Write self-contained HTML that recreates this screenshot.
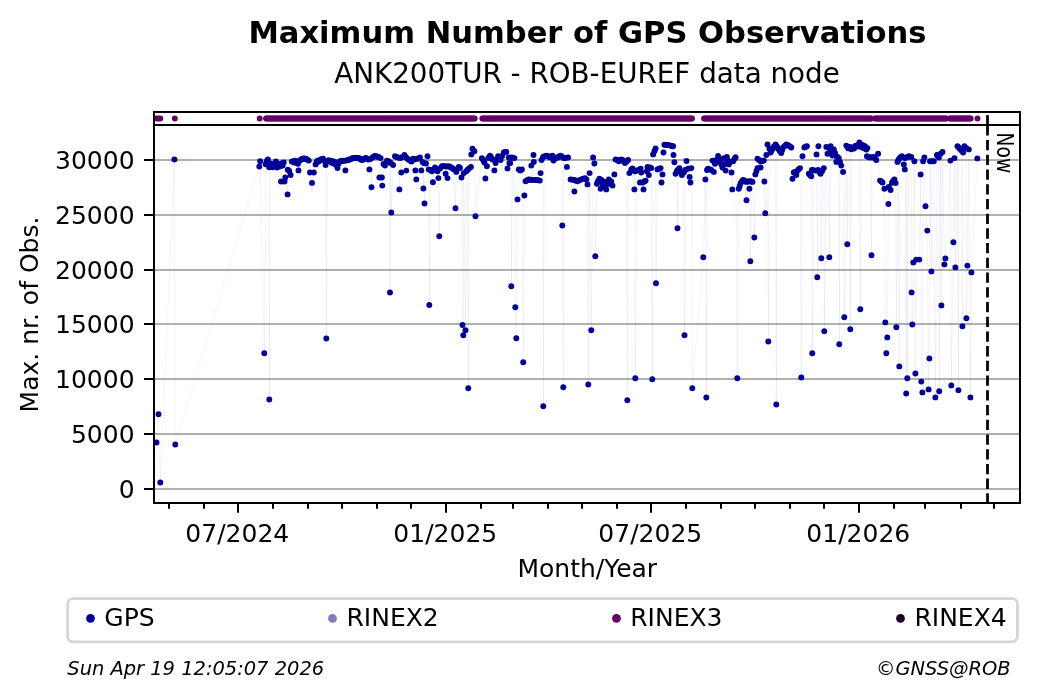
<!DOCTYPE html><html><head><meta charset="utf-8"><title>Maximum Number of GPS Observations</title>
<style>html,body{margin:0;padding:0;background:#fff;}body{width:1040px;height:699px;overflow:hidden;font-family:"DejaVu Sans","Liberation Sans",sans-serif;}svg{display:block;}text{font-family:"DejaVu Sans","Liberation Sans",sans-serif;fill:#000;}</style></head><body>
<svg width="1040" height="699" viewBox="0 0 1040 699">
<rect x="0" y="0" width="1040" height="699" fill="#ffffff"/>
<g stroke="#b0b0b0" stroke-width="2">
<line x1="154.0" x2="1020.0" y1="489.00" y2="489.00"/>
<line x1="154.0" x2="1020.0" y1="434.00" y2="434.00"/>
<line x1="154.0" x2="1020.0" y1="379.00" y2="379.00"/>
<line x1="154.0" x2="1020.0" y1="324.00" y2="324.00"/>
<line x1="154.0" x2="1020.0" y1="270.00" y2="270.00"/>
<line x1="154.0" x2="1020.0" y1="215.00" y2="215.00"/>
<line x1="154.0" x2="1020.0" y1="160.00" y2="160.00"/>
</g>
<clipPath id="cm"><rect x="154" y="125" width="866" height="378"/></clipPath>
<clipPath id="ct"><rect x="154" y="112" width="866" height="13"/></clipPath>
<polyline clip-path="url(#cm)" fill="none" stroke="#00009a" stroke-opacity="0.06" stroke-width="0.9" stroke-linejoin="round" points="156.5,442.5 158.5,414.3 160.3,482.5 174.4,159.4 175.3,444.5 259.3,166.5 260.2,161.2 264.3,353.3 265.7,164.3 266.8,161.0 267.9,159.4 269.1,167.3 269.3,399.5 270.2,163.5 271.3,166.8 272.5,167.2 273.6,164.0 274.7,166.0 275.8,161.4 277.0,167.5 278.1,164.0 279.2,166.5 280.4,166.1 281.0,181.5 281.5,163.5 282.6,165.5 283.7,162.5 284.5,181.5 285.3,177.5 287.6,194.4 287.8,169.7 289.2,171.0 290.6,175.0 291.8,161.6 293.0,161.3 294.2,162.5 295.4,160.6 296.6,163.0 298.0,163.8 298.5,170.4 299.9,160.5 301.2,159.5 302.5,158.8 303.6,158.5 304.8,158.8 306.0,158.8 307.3,159.8 308.8,160.6 310.0,172.5 312.0,182.9 313.8,172.5 315.6,164.4 316.6,162.0 317.5,160.6 318.8,161.5 320.0,160.0 321.3,159.2 323.0,158.8 324.2,160.5 325.6,165.0 326.3,338.5 327.2,161.0 328.6,160.2 330.0,160.6 331.2,162.5 332.4,161.0 333.6,163.5 335.0,162.0 336.2,165.0 337.5,168.0 338.6,163.5 339.8,161.5 341.0,161.0 342.5,160.6 343.6,161.0 345.4,170.4 346.5,160.5 347.7,160.0 348.8,159.8 350.0,159.4 351.2,158.8 352.4,158.2 353.8,158.0 355.0,158.0 356.2,157.8 357.5,158.0 358.8,158.0 360.0,159.0 361.2,159.8 362.5,160.0 363.6,159.0 365.6,158.0 366.8,158.5 368.0,159.5 369.4,169.4 370.4,159.0 371.5,187.3 372.6,157.5 373.8,156.5 375.0,156.0 376.2,156.3 377.4,156.8 378.6,157.0 379.4,177.5 380.6,158.1 381.9,177.5 382.3,185.6 383.6,164.0 385.0,165.6 386.9,160.6 388.1,161.0 389.4,161.9 390.0,292.5 390.6,163.0 391.3,212.5 393.1,165.0 395.0,156.3 396.5,157.0 398.1,157.5 399.4,189.4 400.3,158.0 401.3,172.5 402.4,157.0 404.4,155.0 405.6,157.0 406.3,170.6 406.9,158.1 408.4,159.5 410.0,160.6 411.5,161.5 413.1,158.8 414.3,159.5 415.4,170.4 416.3,179.4 416.9,158.8 418.4,158.5 420.0,157.5 421.3,170.4 422.6,162.0 423.4,188.5 423.8,163.1 424.5,203.5 426.0,163.5 427.5,156.3 428.8,169.4 429.3,305.0 430.3,170.0 431.9,171.3 432.9,182.3 433.6,169.5 435.0,167.5 436.2,169.5 437.5,171.3 438.4,178.1 439.3,236.3 440.0,168.5 441.9,166.3 443.4,166.3 445.0,166.3 445.6,173.8 446.6,166.5 447.5,178.1 448.8,166.3 450.0,167.0 451.2,167.5 452.5,168.1 453.8,169.5 455.5,208.3 456.3,171.9 457.5,169.0 458.8,166.9 460.0,168.0 461.5,177.5 462.5,325.0 463.3,335.3 463.8,173.1 465.5,330.3 466.3,171.3 467.5,170.0 468.3,388.3 468.8,168.8 470.9,166.9 471.3,154.4 472.5,148.8 474.4,151.3 475.5,216.3 481.9,158.1 483.1,160.0 484.4,162.5 485.4,178.5 486.9,166.3 488.4,158.0 490.0,155.6 491.2,157.5 492.5,159.4 494.4,170.4 495.6,163.1 496.8,159.5 498.1,156.3 499.4,158.5 500.6,160.0 502.2,156.0 503.8,152.5 505.0,152.0 506.3,151.9 507.5,168.5 508.8,157.5 509.4,163.1 510.2,163.1 511.3,157.5 511.3,286.3 512.8,157.8 514.4,158.1 515.3,307.3 516.3,338.3 517.5,199.4 518.8,169.4 520.3,170.5 521.9,169.4 523.2,362.3 524.4,195.5 525.6,181.3 527.2,180.2 528.8,179.4 530.2,179.8 531.3,165.6 531.9,180.0 533.5,155.0 533.8,161.9 535.0,180.0 536.3,180.0 538.0,180.3 539.8,180.6 540.6,173.1 541.5,160.0 543.1,156.9 543.3,406.3 544.4,156.5 545.6,156.0 546.9,155.6 548.4,156.5 550.0,157.5 551.2,156.5 552.5,155.6 553.5,160.6 555.0,158.5 556.2,158.0 557.5,157.5 559.0,156.5 560.6,155.6 562.2,157.0 562.3,225.5 563.3,387.3 563.8,158.1 565.3,158.0 566.9,166.9 568.1,157.5 570.6,179.4 572.5,179.8 574.4,180.0 574.4,191.5 576.0,180.8 577.5,181.3 579.4,180.3 581.3,179.4 583.1,178.8 585.0,178.1 586.3,179.5 587.5,184.4 588.3,384.5 589.6,173.1 591.3,330.3 593.1,157.5 594.4,163.5 595.3,256.3 596.9,183.8 598.1,181.0 599.4,178.8 600.6,188.8 601.6,180.0 602.5,183.8 603.8,186.5 605.0,182.0 606.3,189.4 607.5,184.0 608.8,179.4 610.0,183.8 611.2,181.5 612.5,185.6 614.4,174.4 615.6,159.4 617.2,160.0 618.8,161.3 620.0,160.0 621.3,159.4 622.5,160.0 623.8,161.5 625.0,163.1 626.5,161.5 627.3,400.3 628.1,160.0 629.4,173.1 631.3,169.4 632.5,168.5 633.8,170.5 634.4,189.4 635.0,171.3 635.3,378.3 636.9,170.5 638.8,170.0 640.0,182.5 640.6,168.8 641.3,172.5 642.5,182.5 643.5,189.4 644.5,181.5 645.6,180.6 646.9,171.3 647.5,166.9 648.8,175.0 650.0,167.5 651.3,168.1 652.3,379.3 653.1,154.4 654.4,151.3 655.6,148.5 656.0,283.3 657.5,169.4 659.0,168.8 660.6,168.1 661.5,182.5 662.5,174.4 663.5,152.5 664.4,144.8 666.0,144.9 667.5,145.0 669.0,145.3 670.6,145.6 671.9,146.0 673.1,146.3 673.5,155.0 674.4,162.3 675.6,173.8 677.0,171.0 677.5,228.3 678.3,169.5 679.4,168.1 680.6,172.0 681.9,175.0 683.8,172.5 684.5,335.3 685.2,170.0 686.5,161.0 688.1,168.8 689.6,176.9 690.4,182.5 691.3,168.1 692.3,388.3 703.3,257.3 705.4,179.4 706.3,397.5 707.0,170.0 708.1,168.8 709.7,169.4 711.3,170.0 712.5,160.6 713.8,171.9 715.0,163.8 716.5,160.0 718.1,156.0 719.0,159.0 720.0,161.9 721.3,164.5 722.5,167.5 723.8,158.1 724.7,164.0 725.6,170.6 726.9,156.9 727.8,160.5 728.8,164.4 730.2,162.0 731.5,172.5 732.3,189.4 733.1,161.3 734.4,159.0 735.6,157.3 737.3,378.3 738.8,188.8 739.7,186.0 740.6,183.1 741.9,181.5 743.1,180.0 744.4,180.5 746.3,181.9 746.5,200.3 747.8,181.5 749.4,188.8 750.0,181.3 750.3,261.3 751.3,181.5 752.5,181.9 754.3,237.5 755.4,174.4 756.5,171.0 757.5,168.1 757.5,158.8 759.0,160.0 760.6,161.3 760.6,167.5 762.2,161.0 763.8,160.6 764.4,181.5 765.3,213.3 766.3,155.0 767.5,144.4 768.3,341.5 769.4,148.8 770.6,152.5 771.6,150.5 772.5,148.8 774.0,146.5 775.6,144.4 776.3,404.5 776.9,146.5 778.1,148.8 779.7,151.0 781.3,153.1 782.2,150.0 783.1,147.5 784.7,146.0 786.3,144.4 787.5,145.0 788.8,145.6 790.0,146.5 791.3,147.5 792.5,178.8 793.8,172.5 795.0,172.0 796.3,175.0 796.9,171.3 798.5,169.5 800.0,168.1 801.3,377.5 802.5,156.3 804.4,147.5 805.6,146.8 806.9,146.3 808.8,173.8 810.0,175.0 811.3,176.3 811.9,170.0 812.3,353.2 813.5,170.3 815.0,170.6 816.5,154.4 817.3,277.3 818.1,170.0 818.4,146.3 819.4,172.0 820.6,173.8 821.3,258.3 822.2,171.0 823.8,168.1 824.3,331.3 826.3,146.9 827.5,153.8 829.0,148.0 829.3,257.3 830.6,146.3 831.6,151.0 832.5,155.6 833.8,149.4 835.0,153.0 836.3,156.3 836.3,161.9 837.5,157.0 838.8,158.1 839.3,344.3 840.0,162.0 841.3,165.6 843.1,171.9 844.3,317.3 846.3,145.6 847.3,244.3 848.1,148.2 850.0,146.9 850.3,329.3 851.3,149.2 852.5,147.5 854.0,148.6 855.6,145.6 857.5,146.6 859.4,142.5 860.3,309.3 861.0,146.9 862.5,145.0 863.8,148.2 865.0,146.3 866.3,149.6 866.9,156.3 867.5,148.1 868.5,157.0 870.0,157.5 871.5,255.3 872.0,157.2 873.8,156.9 875.0,158.5 876.3,160.0 878.1,153.8 880.0,180.6 881.3,181.5 882.5,182.5 884.4,188.8 885.3,322.4 886.3,353.3 887.3,337.4 888.4,204.0 888.8,186.9 890.6,190.0 891.9,182.7 893.1,181.0 894.4,179.4 895.6,183.1 896.3,327.3 897.5,161.9 898.4,160.0 899.3,366.4 899.4,158.5 900.6,157.3 901.9,156.3 903.8,164.4 904.8,169.4 905.0,158.1 906.2,393.5 906.9,157.2 907.3,378.3 908.8,156.3 910.0,156.6 911.3,156.9 911.6,292.4 912.3,324.5 913.3,262.4 914.4,161.3 915.4,373.5 916.3,259.6 919.3,259.6 920.6,174.4 921.3,381.6 922.4,392.4 923.1,161.3 924.4,157.5 925.5,206.3 927.3,230.6 928.6,389.4 929.4,358.4 930.0,161.3 931.4,271.4 931.9,161.3 933.8,161.3 935.4,397.4 936.9,155.0 937.8,156.3 938.8,157.5 939.2,391.3 940.6,153.8 941.4,305.4 942.5,151.9 944.4,264.4 945.4,258.4 950.4,160.6 951.3,385.4 953.4,242.3 954.4,158.1 955.4,267.4 957.5,146.3 958.4,390.3 958.8,147.5 960.0,148.8 961.5,150.6 962.4,326.2 963.1,152.5 964.4,146.3 966.3,148.1 966.4,318.2 967.4,265.6 968.8,149.4 970.4,397.4 971.4,272.4 977.3,158.4"/>
<g clip-path="url(#cm)" fill="#000096">
<circle cx="156.5" cy="442.5" r="2.95"/>
<circle cx="158.5" cy="414.3" r="2.95"/>
<circle cx="160.3" cy="482.5" r="2.95"/>
<circle cx="174.4" cy="159.4" r="2.95"/>
<circle cx="175.3" cy="444.5" r="2.95"/>
<circle cx="259.3" cy="166.5" r="2.95"/>
<circle cx="260.2" cy="161.2" r="2.95"/>
<circle cx="264.3" cy="353.3" r="2.95"/>
<circle cx="265.7" cy="164.3" r="2.95"/>
<circle cx="266.8" cy="161.0" r="2.95"/>
<circle cx="267.9" cy="159.4" r="2.95"/>
<circle cx="269.1" cy="167.3" r="2.95"/>
<circle cx="269.3" cy="399.5" r="2.95"/>
<circle cx="270.2" cy="163.5" r="2.95"/>
<circle cx="271.3" cy="166.8" r="2.95"/>
<circle cx="272.5" cy="167.2" r="2.95"/>
<circle cx="273.6" cy="164.0" r="2.95"/>
<circle cx="274.7" cy="166.0" r="2.95"/>
<circle cx="275.8" cy="161.4" r="2.95"/>
<circle cx="277.0" cy="167.5" r="2.95"/>
<circle cx="278.1" cy="164.0" r="2.95"/>
<circle cx="279.2" cy="166.5" r="2.95"/>
<circle cx="280.4" cy="166.1" r="2.95"/>
<circle cx="281.0" cy="181.5" r="2.95"/>
<circle cx="281.5" cy="163.5" r="2.95"/>
<circle cx="282.6" cy="165.5" r="2.95"/>
<circle cx="283.7" cy="162.5" r="2.95"/>
<circle cx="284.5" cy="181.5" r="2.95"/>
<circle cx="285.3" cy="177.5" r="2.95"/>
<circle cx="287.6" cy="194.4" r="2.95"/>
<circle cx="287.8" cy="169.7" r="2.95"/>
<circle cx="289.2" cy="171.0" r="2.95"/>
<circle cx="290.6" cy="175.0" r="2.95"/>
<circle cx="291.8" cy="161.6" r="2.95"/>
<circle cx="293.0" cy="161.3" r="2.95"/>
<circle cx="294.2" cy="162.5" r="2.95"/>
<circle cx="295.4" cy="160.6" r="2.95"/>
<circle cx="296.6" cy="163.0" r="2.95"/>
<circle cx="298.0" cy="163.8" r="2.95"/>
<circle cx="298.5" cy="170.4" r="2.95"/>
<circle cx="299.9" cy="160.5" r="2.95"/>
<circle cx="301.2" cy="159.5" r="2.95"/>
<circle cx="302.5" cy="158.8" r="2.95"/>
<circle cx="303.6" cy="158.5" r="2.95"/>
<circle cx="304.8" cy="158.8" r="2.95"/>
<circle cx="306.0" cy="158.8" r="2.95"/>
<circle cx="307.3" cy="159.8" r="2.95"/>
<circle cx="308.8" cy="160.6" r="2.95"/>
<circle cx="310.0" cy="172.5" r="2.95"/>
<circle cx="312.0" cy="182.9" r="2.95"/>
<circle cx="313.8" cy="172.5" r="2.95"/>
<circle cx="315.6" cy="164.4" r="2.95"/>
<circle cx="316.6" cy="162.0" r="2.95"/>
<circle cx="317.5" cy="160.6" r="2.95"/>
<circle cx="318.8" cy="161.5" r="2.95"/>
<circle cx="320.0" cy="160.0" r="2.95"/>
<circle cx="321.3" cy="159.2" r="2.95"/>
<circle cx="323.0" cy="158.8" r="2.95"/>
<circle cx="324.2" cy="160.5" r="2.95"/>
<circle cx="325.6" cy="165.0" r="2.95"/>
<circle cx="326.3" cy="338.5" r="2.95"/>
<circle cx="327.2" cy="161.0" r="2.95"/>
<circle cx="328.6" cy="160.2" r="2.95"/>
<circle cx="330.0" cy="160.6" r="2.95"/>
<circle cx="331.2" cy="162.5" r="2.95"/>
<circle cx="332.4" cy="161.0" r="2.95"/>
<circle cx="333.6" cy="163.5" r="2.95"/>
<circle cx="335.0" cy="162.0" r="2.95"/>
<circle cx="336.2" cy="165.0" r="2.95"/>
<circle cx="337.5" cy="168.0" r="2.95"/>
<circle cx="338.6" cy="163.5" r="2.95"/>
<circle cx="339.8" cy="161.5" r="2.95"/>
<circle cx="341.0" cy="161.0" r="2.95"/>
<circle cx="342.5" cy="160.6" r="2.95"/>
<circle cx="343.6" cy="161.0" r="2.95"/>
<circle cx="345.4" cy="170.4" r="2.95"/>
<circle cx="346.5" cy="160.5" r="2.95"/>
<circle cx="347.7" cy="160.0" r="2.95"/>
<circle cx="348.8" cy="159.8" r="2.95"/>
<circle cx="350.0" cy="159.4" r="2.95"/>
<circle cx="351.2" cy="158.8" r="2.95"/>
<circle cx="352.4" cy="158.2" r="2.95"/>
<circle cx="353.8" cy="158.0" r="2.95"/>
<circle cx="355.0" cy="158.0" r="2.95"/>
<circle cx="356.2" cy="157.8" r="2.95"/>
<circle cx="357.5" cy="158.0" r="2.95"/>
<circle cx="358.8" cy="158.0" r="2.95"/>
<circle cx="360.0" cy="159.0" r="2.95"/>
<circle cx="361.2" cy="159.8" r="2.95"/>
<circle cx="362.5" cy="160.0" r="2.95"/>
<circle cx="363.6" cy="159.0" r="2.95"/>
<circle cx="365.6" cy="158.0" r="2.95"/>
<circle cx="366.8" cy="158.5" r="2.95"/>
<circle cx="368.0" cy="159.5" r="2.95"/>
<circle cx="369.4" cy="169.4" r="2.95"/>
<circle cx="370.4" cy="159.0" r="2.95"/>
<circle cx="371.5" cy="187.3" r="2.95"/>
<circle cx="372.6" cy="157.5" r="2.95"/>
<circle cx="373.8" cy="156.5" r="2.95"/>
<circle cx="375.0" cy="156.0" r="2.95"/>
<circle cx="376.2" cy="156.3" r="2.95"/>
<circle cx="377.4" cy="156.8" r="2.95"/>
<circle cx="378.6" cy="157.0" r="2.95"/>
<circle cx="379.4" cy="177.5" r="2.95"/>
<circle cx="380.6" cy="158.1" r="2.95"/>
<circle cx="381.9" cy="177.5" r="2.95"/>
<circle cx="382.3" cy="185.6" r="2.95"/>
<circle cx="383.6" cy="164.0" r="2.95"/>
<circle cx="385.0" cy="165.6" r="2.95"/>
<circle cx="386.9" cy="160.6" r="2.95"/>
<circle cx="388.1" cy="161.0" r="2.95"/>
<circle cx="389.4" cy="161.9" r="2.95"/>
<circle cx="390.0" cy="292.5" r="2.95"/>
<circle cx="390.6" cy="163.0" r="2.95"/>
<circle cx="391.3" cy="212.5" r="2.95"/>
<circle cx="393.1" cy="165.0" r="2.95"/>
<circle cx="395.0" cy="156.3" r="2.95"/>
<circle cx="396.5" cy="157.0" r="2.95"/>
<circle cx="398.1" cy="157.5" r="2.95"/>
<circle cx="399.4" cy="189.4" r="2.95"/>
<circle cx="400.3" cy="158.0" r="2.95"/>
<circle cx="401.3" cy="172.5" r="2.95"/>
<circle cx="402.4" cy="157.0" r="2.95"/>
<circle cx="404.4" cy="155.0" r="2.95"/>
<circle cx="405.6" cy="157.0" r="2.95"/>
<circle cx="406.3" cy="170.6" r="2.95"/>
<circle cx="406.9" cy="158.1" r="2.95"/>
<circle cx="408.4" cy="159.5" r="2.95"/>
<circle cx="410.0" cy="160.6" r="2.95"/>
<circle cx="411.5" cy="161.5" r="2.95"/>
<circle cx="413.1" cy="158.8" r="2.95"/>
<circle cx="414.3" cy="159.5" r="2.95"/>
<circle cx="415.4" cy="170.4" r="2.95"/>
<circle cx="416.3" cy="179.4" r="2.95"/>
<circle cx="416.9" cy="158.8" r="2.95"/>
<circle cx="418.4" cy="158.5" r="2.95"/>
<circle cx="420.0" cy="157.5" r="2.95"/>
<circle cx="421.3" cy="170.4" r="2.95"/>
<circle cx="422.6" cy="162.0" r="2.95"/>
<circle cx="423.4" cy="188.5" r="2.95"/>
<circle cx="423.8" cy="163.1" r="2.95"/>
<circle cx="424.5" cy="203.5" r="2.95"/>
<circle cx="426.0" cy="163.5" r="2.95"/>
<circle cx="427.5" cy="156.3" r="2.95"/>
<circle cx="428.8" cy="169.4" r="2.95"/>
<circle cx="429.3" cy="305.0" r="2.95"/>
<circle cx="430.3" cy="170.0" r="2.95"/>
<circle cx="431.9" cy="171.3" r="2.95"/>
<circle cx="432.9" cy="182.3" r="2.95"/>
<circle cx="433.6" cy="169.5" r="2.95"/>
<circle cx="435.0" cy="167.5" r="2.95"/>
<circle cx="436.2" cy="169.5" r="2.95"/>
<circle cx="437.5" cy="171.3" r="2.95"/>
<circle cx="438.4" cy="178.1" r="2.95"/>
<circle cx="439.3" cy="236.3" r="2.95"/>
<circle cx="440.0" cy="168.5" r="2.95"/>
<circle cx="441.9" cy="166.3" r="2.95"/>
<circle cx="443.4" cy="166.3" r="2.95"/>
<circle cx="445.0" cy="166.3" r="2.95"/>
<circle cx="445.6" cy="173.8" r="2.95"/>
<circle cx="446.6" cy="166.5" r="2.95"/>
<circle cx="447.5" cy="178.1" r="2.95"/>
<circle cx="448.8" cy="166.3" r="2.95"/>
<circle cx="450.0" cy="167.0" r="2.95"/>
<circle cx="451.2" cy="167.5" r="2.95"/>
<circle cx="452.5" cy="168.1" r="2.95"/>
<circle cx="453.8" cy="169.5" r="2.95"/>
<circle cx="455.5" cy="208.3" r="2.95"/>
<circle cx="456.3" cy="171.9" r="2.95"/>
<circle cx="457.5" cy="169.0" r="2.95"/>
<circle cx="458.8" cy="166.9" r="2.95"/>
<circle cx="460.0" cy="168.0" r="2.95"/>
<circle cx="461.5" cy="177.5" r="2.95"/>
<circle cx="462.5" cy="325.0" r="2.95"/>
<circle cx="463.3" cy="335.3" r="2.95"/>
<circle cx="463.8" cy="173.1" r="2.95"/>
<circle cx="465.5" cy="330.3" r="2.95"/>
<circle cx="466.3" cy="171.3" r="2.95"/>
<circle cx="467.5" cy="170.0" r="2.95"/>
<circle cx="468.3" cy="388.3" r="2.95"/>
<circle cx="468.8" cy="168.8" r="2.95"/>
<circle cx="470.9" cy="166.9" r="2.95"/>
<circle cx="471.3" cy="154.4" r="2.95"/>
<circle cx="472.5" cy="148.8" r="2.95"/>
<circle cx="474.4" cy="151.3" r="2.95"/>
<circle cx="475.5" cy="216.3" r="2.95"/>
<circle cx="481.9" cy="158.1" r="2.95"/>
<circle cx="483.1" cy="160.0" r="2.95"/>
<circle cx="484.4" cy="162.5" r="2.95"/>
<circle cx="485.4" cy="178.5" r="2.95"/>
<circle cx="486.9" cy="166.3" r="2.95"/>
<circle cx="488.4" cy="158.0" r="2.95"/>
<circle cx="490.0" cy="155.6" r="2.95"/>
<circle cx="491.2" cy="157.5" r="2.95"/>
<circle cx="492.5" cy="159.4" r="2.95"/>
<circle cx="494.4" cy="170.4" r="2.95"/>
<circle cx="495.6" cy="163.1" r="2.95"/>
<circle cx="496.8" cy="159.5" r="2.95"/>
<circle cx="498.1" cy="156.3" r="2.95"/>
<circle cx="499.4" cy="158.5" r="2.95"/>
<circle cx="500.6" cy="160.0" r="2.95"/>
<circle cx="502.2" cy="156.0" r="2.95"/>
<circle cx="503.8" cy="152.5" r="2.95"/>
<circle cx="505.0" cy="152.0" r="2.95"/>
<circle cx="506.3" cy="151.9" r="2.95"/>
<circle cx="507.5" cy="168.5" r="2.95"/>
<circle cx="508.8" cy="157.5" r="2.95"/>
<circle cx="509.4" cy="163.1" r="2.95"/>
<circle cx="510.2" cy="163.1" r="2.95"/>
<circle cx="511.3" cy="157.5" r="2.95"/>
<circle cx="511.3" cy="286.3" r="2.95"/>
<circle cx="512.8" cy="157.8" r="2.95"/>
<circle cx="514.4" cy="158.1" r="2.95"/>
<circle cx="515.3" cy="307.3" r="2.95"/>
<circle cx="516.3" cy="338.3" r="2.95"/>
<circle cx="517.5" cy="199.4" r="2.95"/>
<circle cx="518.8" cy="169.4" r="2.95"/>
<circle cx="520.3" cy="170.5" r="2.95"/>
<circle cx="521.9" cy="169.4" r="2.95"/>
<circle cx="523.2" cy="362.3" r="2.95"/>
<circle cx="524.4" cy="195.5" r="2.95"/>
<circle cx="525.6" cy="181.3" r="2.95"/>
<circle cx="527.2" cy="180.2" r="2.95"/>
<circle cx="528.8" cy="179.4" r="2.95"/>
<circle cx="530.2" cy="179.8" r="2.95"/>
<circle cx="531.3" cy="165.6" r="2.95"/>
<circle cx="531.9" cy="180.0" r="2.95"/>
<circle cx="533.5" cy="155.0" r="2.95"/>
<circle cx="533.8" cy="161.9" r="2.95"/>
<circle cx="535.0" cy="180.0" r="2.95"/>
<circle cx="536.3" cy="180.0" r="2.95"/>
<circle cx="538.0" cy="180.3" r="2.95"/>
<circle cx="539.8" cy="180.6" r="2.95"/>
<circle cx="540.6" cy="173.1" r="2.95"/>
<circle cx="541.5" cy="160.0" r="2.95"/>
<circle cx="543.1" cy="156.9" r="2.95"/>
<circle cx="543.3" cy="406.3" r="2.95"/>
<circle cx="544.4" cy="156.5" r="2.95"/>
<circle cx="545.6" cy="156.0" r="2.95"/>
<circle cx="546.9" cy="155.6" r="2.95"/>
<circle cx="548.4" cy="156.5" r="2.95"/>
<circle cx="550.0" cy="157.5" r="2.95"/>
<circle cx="551.2" cy="156.5" r="2.95"/>
<circle cx="552.5" cy="155.6" r="2.95"/>
<circle cx="553.5" cy="160.6" r="2.95"/>
<circle cx="555.0" cy="158.5" r="2.95"/>
<circle cx="556.2" cy="158.0" r="2.95"/>
<circle cx="557.5" cy="157.5" r="2.95"/>
<circle cx="559.0" cy="156.5" r="2.95"/>
<circle cx="560.6" cy="155.6" r="2.95"/>
<circle cx="562.2" cy="157.0" r="2.95"/>
<circle cx="562.3" cy="225.5" r="2.95"/>
<circle cx="563.3" cy="387.3" r="2.95"/>
<circle cx="563.8" cy="158.1" r="2.95"/>
<circle cx="565.3" cy="158.0" r="2.95"/>
<circle cx="566.9" cy="166.9" r="2.95"/>
<circle cx="568.1" cy="157.5" r="2.95"/>
<circle cx="570.6" cy="179.4" r="2.95"/>
<circle cx="572.5" cy="179.8" r="2.95"/>
<circle cx="574.4" cy="180.0" r="2.95"/>
<circle cx="574.4" cy="191.5" r="2.95"/>
<circle cx="576.0" cy="180.8" r="2.95"/>
<circle cx="577.5" cy="181.3" r="2.95"/>
<circle cx="579.4" cy="180.3" r="2.95"/>
<circle cx="581.3" cy="179.4" r="2.95"/>
<circle cx="583.1" cy="178.8" r="2.95"/>
<circle cx="585.0" cy="178.1" r="2.95"/>
<circle cx="586.3" cy="179.5" r="2.95"/>
<circle cx="587.5" cy="184.4" r="2.95"/>
<circle cx="588.3" cy="384.5" r="2.95"/>
<circle cx="589.6" cy="173.1" r="2.95"/>
<circle cx="591.3" cy="330.3" r="2.95"/>
<circle cx="593.1" cy="157.5" r="2.95"/>
<circle cx="594.4" cy="163.5" r="2.95"/>
<circle cx="595.3" cy="256.3" r="2.95"/>
<circle cx="596.9" cy="183.8" r="2.95"/>
<circle cx="598.1" cy="181.0" r="2.95"/>
<circle cx="599.4" cy="178.8" r="2.95"/>
<circle cx="600.6" cy="188.8" r="2.95"/>
<circle cx="601.6" cy="180.0" r="2.95"/>
<circle cx="602.5" cy="183.8" r="2.95"/>
<circle cx="603.8" cy="186.5" r="2.95"/>
<circle cx="605.0" cy="182.0" r="2.95"/>
<circle cx="606.3" cy="189.4" r="2.95"/>
<circle cx="607.5" cy="184.0" r="2.95"/>
<circle cx="608.8" cy="179.4" r="2.95"/>
<circle cx="610.0" cy="183.8" r="2.95"/>
<circle cx="611.2" cy="181.5" r="2.95"/>
<circle cx="612.5" cy="185.6" r="2.95"/>
<circle cx="614.4" cy="174.4" r="2.95"/>
<circle cx="615.6" cy="159.4" r="2.95"/>
<circle cx="617.2" cy="160.0" r="2.95"/>
<circle cx="618.8" cy="161.3" r="2.95"/>
<circle cx="620.0" cy="160.0" r="2.95"/>
<circle cx="621.3" cy="159.4" r="2.95"/>
<circle cx="622.5" cy="160.0" r="2.95"/>
<circle cx="623.8" cy="161.5" r="2.95"/>
<circle cx="625.0" cy="163.1" r="2.95"/>
<circle cx="626.5" cy="161.5" r="2.95"/>
<circle cx="627.3" cy="400.3" r="2.95"/>
<circle cx="628.1" cy="160.0" r="2.95"/>
<circle cx="629.4" cy="173.1" r="2.95"/>
<circle cx="631.3" cy="169.4" r="2.95"/>
<circle cx="632.5" cy="168.5" r="2.95"/>
<circle cx="633.8" cy="170.5" r="2.95"/>
<circle cx="634.4" cy="189.4" r="2.95"/>
<circle cx="635.0" cy="171.3" r="2.95"/>
<circle cx="635.3" cy="378.3" r="2.95"/>
<circle cx="636.9" cy="170.5" r="2.95"/>
<circle cx="638.8" cy="170.0" r="2.95"/>
<circle cx="640.0" cy="182.5" r="2.95"/>
<circle cx="640.6" cy="168.8" r="2.95"/>
<circle cx="641.3" cy="172.5" r="2.95"/>
<circle cx="642.5" cy="182.5" r="2.95"/>
<circle cx="643.5" cy="189.4" r="2.95"/>
<circle cx="644.5" cy="181.5" r="2.95"/>
<circle cx="645.6" cy="180.6" r="2.95"/>
<circle cx="646.9" cy="171.3" r="2.95"/>
<circle cx="647.5" cy="166.9" r="2.95"/>
<circle cx="648.8" cy="175.0" r="2.95"/>
<circle cx="650.0" cy="167.5" r="2.95"/>
<circle cx="651.3" cy="168.1" r="2.95"/>
<circle cx="652.3" cy="379.3" r="2.95"/>
<circle cx="653.1" cy="154.4" r="2.95"/>
<circle cx="654.4" cy="151.3" r="2.95"/>
<circle cx="655.6" cy="148.5" r="2.95"/>
<circle cx="656.0" cy="283.3" r="2.95"/>
<circle cx="657.5" cy="169.4" r="2.95"/>
<circle cx="659.0" cy="168.8" r="2.95"/>
<circle cx="660.6" cy="168.1" r="2.95"/>
<circle cx="661.5" cy="182.5" r="2.95"/>
<circle cx="662.5" cy="174.4" r="2.95"/>
<circle cx="663.5" cy="152.5" r="2.95"/>
<circle cx="664.4" cy="144.8" r="2.95"/>
<circle cx="666.0" cy="144.9" r="2.95"/>
<circle cx="667.5" cy="145.0" r="2.95"/>
<circle cx="669.0" cy="145.3" r="2.95"/>
<circle cx="670.6" cy="145.6" r="2.95"/>
<circle cx="671.9" cy="146.0" r="2.95"/>
<circle cx="673.1" cy="146.3" r="2.95"/>
<circle cx="673.5" cy="155.0" r="2.95"/>
<circle cx="674.4" cy="162.3" r="2.95"/>
<circle cx="675.6" cy="173.8" r="2.95"/>
<circle cx="677.0" cy="171.0" r="2.95"/>
<circle cx="677.5" cy="228.3" r="2.95"/>
<circle cx="678.3" cy="169.5" r="2.95"/>
<circle cx="679.4" cy="168.1" r="2.95"/>
<circle cx="680.6" cy="172.0" r="2.95"/>
<circle cx="681.9" cy="175.0" r="2.95"/>
<circle cx="683.8" cy="172.5" r="2.95"/>
<circle cx="684.5" cy="335.3" r="2.95"/>
<circle cx="685.2" cy="170.0" r="2.95"/>
<circle cx="686.5" cy="161.0" r="2.95"/>
<circle cx="688.1" cy="168.8" r="2.95"/>
<circle cx="689.6" cy="176.9" r="2.95"/>
<circle cx="690.4" cy="182.5" r="2.95"/>
<circle cx="691.3" cy="168.1" r="2.95"/>
<circle cx="692.3" cy="388.3" r="2.95"/>
<circle cx="703.3" cy="257.3" r="2.95"/>
<circle cx="705.4" cy="179.4" r="2.95"/>
<circle cx="706.3" cy="397.5" r="2.95"/>
<circle cx="707.0" cy="170.0" r="2.95"/>
<circle cx="708.1" cy="168.8" r="2.95"/>
<circle cx="709.7" cy="169.4" r="2.95"/>
<circle cx="711.3" cy="170.0" r="2.95"/>
<circle cx="712.5" cy="160.6" r="2.95"/>
<circle cx="713.8" cy="171.9" r="2.95"/>
<circle cx="715.0" cy="163.8" r="2.95"/>
<circle cx="716.5" cy="160.0" r="2.95"/>
<circle cx="718.1" cy="156.0" r="2.95"/>
<circle cx="719.0" cy="159.0" r="2.95"/>
<circle cx="720.0" cy="161.9" r="2.95"/>
<circle cx="721.3" cy="164.5" r="2.95"/>
<circle cx="722.5" cy="167.5" r="2.95"/>
<circle cx="723.8" cy="158.1" r="2.95"/>
<circle cx="724.7" cy="164.0" r="2.95"/>
<circle cx="725.6" cy="170.6" r="2.95"/>
<circle cx="726.9" cy="156.9" r="2.95"/>
<circle cx="727.8" cy="160.5" r="2.95"/>
<circle cx="728.8" cy="164.4" r="2.95"/>
<circle cx="730.2" cy="162.0" r="2.95"/>
<circle cx="731.5" cy="172.5" r="2.95"/>
<circle cx="732.3" cy="189.4" r="2.95"/>
<circle cx="733.1" cy="161.3" r="2.95"/>
<circle cx="734.4" cy="159.0" r="2.95"/>
<circle cx="735.6" cy="157.3" r="2.95"/>
<circle cx="737.3" cy="378.3" r="2.95"/>
<circle cx="738.8" cy="188.8" r="2.95"/>
<circle cx="739.7" cy="186.0" r="2.95"/>
<circle cx="740.6" cy="183.1" r="2.95"/>
<circle cx="741.9" cy="181.5" r="2.95"/>
<circle cx="743.1" cy="180.0" r="2.95"/>
<circle cx="744.4" cy="180.5" r="2.95"/>
<circle cx="746.3" cy="181.9" r="2.95"/>
<circle cx="746.5" cy="200.3" r="2.95"/>
<circle cx="747.8" cy="181.5" r="2.95"/>
<circle cx="749.4" cy="188.8" r="2.95"/>
<circle cx="750.0" cy="181.3" r="2.95"/>
<circle cx="750.3" cy="261.3" r="2.95"/>
<circle cx="751.3" cy="181.5" r="2.95"/>
<circle cx="752.5" cy="181.9" r="2.95"/>
<circle cx="754.3" cy="237.5" r="2.95"/>
<circle cx="755.4" cy="174.4" r="2.95"/>
<circle cx="756.5" cy="171.0" r="2.95"/>
<circle cx="757.5" cy="168.1" r="2.95"/>
<circle cx="757.5" cy="158.8" r="2.95"/>
<circle cx="759.0" cy="160.0" r="2.95"/>
<circle cx="760.6" cy="161.3" r="2.95"/>
<circle cx="760.6" cy="167.5" r="2.95"/>
<circle cx="762.2" cy="161.0" r="2.95"/>
<circle cx="763.8" cy="160.6" r="2.95"/>
<circle cx="764.4" cy="181.5" r="2.95"/>
<circle cx="765.3" cy="213.3" r="2.95"/>
<circle cx="766.3" cy="155.0" r="2.95"/>
<circle cx="767.5" cy="144.4" r="2.95"/>
<circle cx="768.3" cy="341.5" r="2.95"/>
<circle cx="769.4" cy="148.8" r="2.95"/>
<circle cx="770.6" cy="152.5" r="2.95"/>
<circle cx="771.6" cy="150.5" r="2.95"/>
<circle cx="772.5" cy="148.8" r="2.95"/>
<circle cx="774.0" cy="146.5" r="2.95"/>
<circle cx="775.6" cy="144.4" r="2.95"/>
<circle cx="776.3" cy="404.5" r="2.95"/>
<circle cx="776.9" cy="146.5" r="2.95"/>
<circle cx="778.1" cy="148.8" r="2.95"/>
<circle cx="779.7" cy="151.0" r="2.95"/>
<circle cx="781.3" cy="153.1" r="2.95"/>
<circle cx="782.2" cy="150.0" r="2.95"/>
<circle cx="783.1" cy="147.5" r="2.95"/>
<circle cx="784.7" cy="146.0" r="2.95"/>
<circle cx="786.3" cy="144.4" r="2.95"/>
<circle cx="787.5" cy="145.0" r="2.95"/>
<circle cx="788.8" cy="145.6" r="2.95"/>
<circle cx="790.0" cy="146.5" r="2.95"/>
<circle cx="791.3" cy="147.5" r="2.95"/>
<circle cx="792.5" cy="178.8" r="2.95"/>
<circle cx="793.8" cy="172.5" r="2.95"/>
<circle cx="795.0" cy="172.0" r="2.95"/>
<circle cx="796.3" cy="175.0" r="2.95"/>
<circle cx="796.9" cy="171.3" r="2.95"/>
<circle cx="798.5" cy="169.5" r="2.95"/>
<circle cx="800.0" cy="168.1" r="2.95"/>
<circle cx="801.3" cy="377.5" r="2.95"/>
<circle cx="802.5" cy="156.3" r="2.95"/>
<circle cx="804.4" cy="147.5" r="2.95"/>
<circle cx="805.6" cy="146.8" r="2.95"/>
<circle cx="806.9" cy="146.3" r="2.95"/>
<circle cx="808.8" cy="173.8" r="2.95"/>
<circle cx="810.0" cy="175.0" r="2.95"/>
<circle cx="811.3" cy="176.3" r="2.95"/>
<circle cx="811.9" cy="170.0" r="2.95"/>
<circle cx="812.3" cy="353.2" r="2.95"/>
<circle cx="813.5" cy="170.3" r="2.95"/>
<circle cx="815.0" cy="170.6" r="2.95"/>
<circle cx="816.5" cy="154.4" r="2.95"/>
<circle cx="817.3" cy="277.3" r="2.95"/>
<circle cx="818.1" cy="170.0" r="2.95"/>
<circle cx="818.4" cy="146.3" r="2.95"/>
<circle cx="819.4" cy="172.0" r="2.95"/>
<circle cx="820.6" cy="173.8" r="2.95"/>
<circle cx="821.3" cy="258.3" r="2.95"/>
<circle cx="822.2" cy="171.0" r="2.95"/>
<circle cx="823.8" cy="168.1" r="2.95"/>
<circle cx="824.3" cy="331.3" r="2.95"/>
<circle cx="826.3" cy="146.9" r="2.95"/>
<circle cx="827.5" cy="153.8" r="2.95"/>
<circle cx="829.0" cy="148.0" r="2.95"/>
<circle cx="829.3" cy="257.3" r="2.95"/>
<circle cx="830.6" cy="146.3" r="2.95"/>
<circle cx="831.6" cy="151.0" r="2.95"/>
<circle cx="832.5" cy="155.6" r="2.95"/>
<circle cx="833.8" cy="149.4" r="2.95"/>
<circle cx="835.0" cy="153.0" r="2.95"/>
<circle cx="836.3" cy="156.3" r="2.95"/>
<circle cx="836.3" cy="161.9" r="2.95"/>
<circle cx="837.5" cy="157.0" r="2.95"/>
<circle cx="838.8" cy="158.1" r="2.95"/>
<circle cx="839.3" cy="344.3" r="2.95"/>
<circle cx="840.0" cy="162.0" r="2.95"/>
<circle cx="841.3" cy="165.6" r="2.95"/>
<circle cx="843.1" cy="171.9" r="2.95"/>
<circle cx="844.3" cy="317.3" r="2.95"/>
<circle cx="846.3" cy="145.6" r="2.95"/>
<circle cx="847.3" cy="244.3" r="2.95"/>
<circle cx="848.1" cy="148.2" r="2.95"/>
<circle cx="850.0" cy="146.9" r="2.95"/>
<circle cx="850.3" cy="329.3" r="2.95"/>
<circle cx="851.3" cy="149.2" r="2.95"/>
<circle cx="852.5" cy="147.5" r="2.95"/>
<circle cx="854.0" cy="148.6" r="2.95"/>
<circle cx="855.6" cy="145.6" r="2.95"/>
<circle cx="857.5" cy="146.6" r="2.95"/>
<circle cx="859.4" cy="142.5" r="2.95"/>
<circle cx="860.3" cy="309.3" r="2.95"/>
<circle cx="861.0" cy="146.9" r="2.95"/>
<circle cx="862.5" cy="145.0" r="2.95"/>
<circle cx="863.8" cy="148.2" r="2.95"/>
<circle cx="865.0" cy="146.3" r="2.95"/>
<circle cx="866.3" cy="149.6" r="2.95"/>
<circle cx="866.9" cy="156.3" r="2.95"/>
<circle cx="867.5" cy="148.1" r="2.95"/>
<circle cx="868.5" cy="157.0" r="2.95"/>
<circle cx="870.0" cy="157.5" r="2.95"/>
<circle cx="871.5" cy="255.3" r="2.95"/>
<circle cx="872.0" cy="157.2" r="2.95"/>
<circle cx="873.8" cy="156.9" r="2.95"/>
<circle cx="875.0" cy="158.5" r="2.95"/>
<circle cx="876.3" cy="160.0" r="2.95"/>
<circle cx="878.1" cy="153.8" r="2.95"/>
<circle cx="880.0" cy="180.6" r="2.95"/>
<circle cx="881.3" cy="181.5" r="2.95"/>
<circle cx="882.5" cy="182.5" r="2.95"/>
<circle cx="884.4" cy="188.8" r="2.95"/>
<circle cx="885.3" cy="322.4" r="2.95"/>
<circle cx="886.3" cy="353.3" r="2.95"/>
<circle cx="887.3" cy="337.4" r="2.95"/>
<circle cx="888.4" cy="204.0" r="2.95"/>
<circle cx="888.8" cy="186.9" r="2.95"/>
<circle cx="890.6" cy="190.0" r="2.95"/>
<circle cx="891.9" cy="182.7" r="2.95"/>
<circle cx="893.1" cy="181.0" r="2.95"/>
<circle cx="894.4" cy="179.4" r="2.95"/>
<circle cx="895.6" cy="183.1" r="2.95"/>
<circle cx="896.3" cy="327.3" r="2.95"/>
<circle cx="897.5" cy="161.9" r="2.95"/>
<circle cx="898.4" cy="160.0" r="2.95"/>
<circle cx="899.3" cy="366.4" r="2.95"/>
<circle cx="899.4" cy="158.5" r="2.95"/>
<circle cx="900.6" cy="157.3" r="2.95"/>
<circle cx="901.9" cy="156.3" r="2.95"/>
<circle cx="903.8" cy="164.4" r="2.95"/>
<circle cx="904.8" cy="169.4" r="2.95"/>
<circle cx="905.0" cy="158.1" r="2.95"/>
<circle cx="906.2" cy="393.5" r="2.95"/>
<circle cx="906.9" cy="157.2" r="2.95"/>
<circle cx="907.3" cy="378.3" r="2.95"/>
<circle cx="908.8" cy="156.3" r="2.95"/>
<circle cx="910.0" cy="156.6" r="2.95"/>
<circle cx="911.3" cy="156.9" r="2.95"/>
<circle cx="911.6" cy="292.4" r="2.95"/>
<circle cx="912.3" cy="324.5" r="2.95"/>
<circle cx="913.3" cy="262.4" r="2.95"/>
<circle cx="914.4" cy="161.3" r="2.95"/>
<circle cx="915.4" cy="373.5" r="2.95"/>
<circle cx="916.3" cy="259.6" r="2.95"/>
<circle cx="919.3" cy="259.6" r="2.95"/>
<circle cx="920.6" cy="174.4" r="2.95"/>
<circle cx="921.3" cy="381.6" r="2.95"/>
<circle cx="922.4" cy="392.4" r="2.95"/>
<circle cx="923.1" cy="161.3" r="2.95"/>
<circle cx="924.4" cy="157.5" r="2.95"/>
<circle cx="925.5" cy="206.3" r="2.95"/>
<circle cx="927.3" cy="230.6" r="2.95"/>
<circle cx="928.6" cy="389.4" r="2.95"/>
<circle cx="929.4" cy="358.4" r="2.95"/>
<circle cx="930.0" cy="161.3" r="2.95"/>
<circle cx="931.4" cy="271.4" r="2.95"/>
<circle cx="931.9" cy="161.3" r="2.95"/>
<circle cx="933.8" cy="161.3" r="2.95"/>
<circle cx="935.4" cy="397.4" r="2.95"/>
<circle cx="936.9" cy="155.0" r="2.95"/>
<circle cx="937.8" cy="156.3" r="2.95"/>
<circle cx="938.8" cy="157.5" r="2.95"/>
<circle cx="939.2" cy="391.3" r="2.95"/>
<circle cx="940.6" cy="153.8" r="2.95"/>
<circle cx="941.4" cy="305.4" r="2.95"/>
<circle cx="942.5" cy="151.9" r="2.95"/>
<circle cx="944.4" cy="264.4" r="2.95"/>
<circle cx="945.4" cy="258.4" r="2.95"/>
<circle cx="950.4" cy="160.6" r="2.95"/>
<circle cx="951.3" cy="385.4" r="2.95"/>
<circle cx="953.4" cy="242.3" r="2.95"/>
<circle cx="954.4" cy="158.1" r="2.95"/>
<circle cx="955.4" cy="267.4" r="2.95"/>
<circle cx="957.5" cy="146.3" r="2.95"/>
<circle cx="958.4" cy="390.3" r="2.95"/>
<circle cx="958.8" cy="147.5" r="2.95"/>
<circle cx="960.0" cy="148.8" r="2.95"/>
<circle cx="961.5" cy="150.6" r="2.95"/>
<circle cx="962.4" cy="326.2" r="2.95"/>
<circle cx="963.1" cy="152.5" r="2.95"/>
<circle cx="964.4" cy="146.3" r="2.95"/>
<circle cx="966.3" cy="148.1" r="2.95"/>
<circle cx="966.4" cy="318.2" r="2.95"/>
<circle cx="967.4" cy="265.6" r="2.95"/>
<circle cx="968.8" cy="149.4" r="2.95"/>
<circle cx="970.4" cy="397.4" r="2.95"/>
<circle cx="971.4" cy="272.4" r="2.95"/>
<circle cx="977.3" cy="158.4" r="2.95"/>
</g>
<g clip-path="url(#ct)" fill="#660066">
<circle cx="156.5" cy="118.5" r="2.95"/>
<circle cx="158.5" cy="118.5" r="2.95"/>
<circle cx="160.3" cy="118.5" r="2.95"/>
<circle cx="174.8" cy="118.5" r="2.95"/>
<circle cx="259.7" cy="118.5" r="2.95"/>
<circle cx="266.0" cy="118.5" r="2.95"/>
<circle cx="267.1" cy="118.5" r="2.95"/>
<circle cx="268.3" cy="118.5" r="2.95"/>
<circle cx="269.4" cy="118.5" r="2.95"/>
<circle cx="270.5" cy="118.5" r="2.95"/>
<circle cx="271.7" cy="118.5" r="2.95"/>
<circle cx="272.8" cy="118.5" r="2.95"/>
<circle cx="273.9" cy="118.5" r="2.95"/>
<circle cx="275.1" cy="118.5" r="2.95"/>
<circle cx="276.2" cy="118.5" r="2.95"/>
<circle cx="277.3" cy="118.5" r="2.95"/>
<circle cx="278.5" cy="118.5" r="2.95"/>
<circle cx="279.6" cy="118.5" r="2.95"/>
<circle cx="280.7" cy="118.5" r="2.95"/>
<circle cx="281.9" cy="118.5" r="2.95"/>
<circle cx="283.0" cy="118.5" r="2.95"/>
<circle cx="284.1" cy="118.5" r="2.95"/>
<circle cx="285.3" cy="118.5" r="2.95"/>
<circle cx="286.4" cy="118.5" r="2.95"/>
<circle cx="287.6" cy="118.5" r="2.95"/>
<circle cx="288.7" cy="118.5" r="2.95"/>
<circle cx="289.8" cy="118.5" r="2.95"/>
<circle cx="291.0" cy="118.5" r="2.95"/>
<circle cx="292.1" cy="118.5" r="2.95"/>
<circle cx="293.2" cy="118.5" r="2.95"/>
<circle cx="294.4" cy="118.5" r="2.95"/>
<circle cx="295.5" cy="118.5" r="2.95"/>
<circle cx="296.6" cy="118.5" r="2.95"/>
<circle cx="297.8" cy="118.5" r="2.95"/>
<circle cx="298.9" cy="118.5" r="2.95"/>
<circle cx="300.0" cy="118.5" r="2.95"/>
<circle cx="301.2" cy="118.5" r="2.95"/>
<circle cx="302.3" cy="118.5" r="2.95"/>
<circle cx="303.4" cy="118.5" r="2.95"/>
<circle cx="304.6" cy="118.5" r="2.95"/>
<circle cx="305.7" cy="118.5" r="2.95"/>
<circle cx="306.8" cy="118.5" r="2.95"/>
<circle cx="308.0" cy="118.5" r="2.95"/>
<circle cx="309.1" cy="118.5" r="2.95"/>
<circle cx="310.2" cy="118.5" r="2.95"/>
<circle cx="311.4" cy="118.5" r="2.95"/>
<circle cx="312.5" cy="118.5" r="2.95"/>
<circle cx="313.6" cy="118.5" r="2.95"/>
<circle cx="314.8" cy="118.5" r="2.95"/>
<circle cx="315.9" cy="118.5" r="2.95"/>
<circle cx="317.0" cy="118.5" r="2.95"/>
<circle cx="318.2" cy="118.5" r="2.95"/>
<circle cx="319.3" cy="118.5" r="2.95"/>
<circle cx="320.4" cy="118.5" r="2.95"/>
<circle cx="321.6" cy="118.5" r="2.95"/>
<circle cx="322.7" cy="118.5" r="2.95"/>
<circle cx="323.8" cy="118.5" r="2.95"/>
<circle cx="325.0" cy="118.5" r="2.95"/>
<circle cx="326.1" cy="118.5" r="2.95"/>
<circle cx="327.2" cy="118.5" r="2.95"/>
<circle cx="328.4" cy="118.5" r="2.95"/>
<circle cx="329.5" cy="118.5" r="2.95"/>
<circle cx="330.7" cy="118.5" r="2.95"/>
<circle cx="331.8" cy="118.5" r="2.95"/>
<circle cx="332.9" cy="118.5" r="2.95"/>
<circle cx="334.1" cy="118.5" r="2.95"/>
<circle cx="335.2" cy="118.5" r="2.95"/>
<circle cx="336.3" cy="118.5" r="2.95"/>
<circle cx="337.5" cy="118.5" r="2.95"/>
<circle cx="338.6" cy="118.5" r="2.95"/>
<circle cx="339.7" cy="118.5" r="2.95"/>
<circle cx="340.9" cy="118.5" r="2.95"/>
<circle cx="342.0" cy="118.5" r="2.95"/>
<circle cx="343.1" cy="118.5" r="2.95"/>
<circle cx="344.3" cy="118.5" r="2.95"/>
<circle cx="345.4" cy="118.5" r="2.95"/>
<circle cx="346.5" cy="118.5" r="2.95"/>
<circle cx="347.7" cy="118.5" r="2.95"/>
<circle cx="348.8" cy="118.5" r="2.95"/>
<circle cx="349.9" cy="118.5" r="2.95"/>
<circle cx="351.1" cy="118.5" r="2.95"/>
<circle cx="352.2" cy="118.5" r="2.95"/>
<circle cx="353.3" cy="118.5" r="2.95"/>
<circle cx="354.5" cy="118.5" r="2.95"/>
<circle cx="355.6" cy="118.5" r="2.95"/>
<circle cx="356.7" cy="118.5" r="2.95"/>
<circle cx="357.9" cy="118.5" r="2.95"/>
<circle cx="359.0" cy="118.5" r="2.95"/>
<circle cx="360.1" cy="118.5" r="2.95"/>
<circle cx="361.3" cy="118.5" r="2.95"/>
<circle cx="362.4" cy="118.5" r="2.95"/>
<circle cx="363.5" cy="118.5" r="2.95"/>
<circle cx="364.7" cy="118.5" r="2.95"/>
<circle cx="365.8" cy="118.5" r="2.95"/>
<circle cx="366.9" cy="118.5" r="2.95"/>
<circle cx="368.1" cy="118.5" r="2.95"/>
<circle cx="369.2" cy="118.5" r="2.95"/>
<circle cx="370.4" cy="118.5" r="2.95"/>
<circle cx="371.5" cy="118.5" r="2.95"/>
<circle cx="372.6" cy="118.5" r="2.95"/>
<circle cx="373.8" cy="118.5" r="2.95"/>
<circle cx="374.9" cy="118.5" r="2.95"/>
<circle cx="376.0" cy="118.5" r="2.95"/>
<circle cx="377.2" cy="118.5" r="2.95"/>
<circle cx="378.3" cy="118.5" r="2.95"/>
<circle cx="379.4" cy="118.5" r="2.95"/>
<circle cx="380.6" cy="118.5" r="2.95"/>
<circle cx="381.7" cy="118.5" r="2.95"/>
<circle cx="382.8" cy="118.5" r="2.95"/>
<circle cx="384.0" cy="118.5" r="2.95"/>
<circle cx="385.1" cy="118.5" r="2.95"/>
<circle cx="386.2" cy="118.5" r="2.95"/>
<circle cx="387.4" cy="118.5" r="2.95"/>
<circle cx="388.5" cy="118.5" r="2.95"/>
<circle cx="389.6" cy="118.5" r="2.95"/>
<circle cx="390.8" cy="118.5" r="2.95"/>
<circle cx="391.9" cy="118.5" r="2.95"/>
<circle cx="393.0" cy="118.5" r="2.95"/>
<circle cx="394.2" cy="118.5" r="2.95"/>
<circle cx="395.3" cy="118.5" r="2.95"/>
<circle cx="396.4" cy="118.5" r="2.95"/>
<circle cx="397.6" cy="118.5" r="2.95"/>
<circle cx="398.7" cy="118.5" r="2.95"/>
<circle cx="399.8" cy="118.5" r="2.95"/>
<circle cx="401.0" cy="118.5" r="2.95"/>
<circle cx="402.1" cy="118.5" r="2.95"/>
<circle cx="403.2" cy="118.5" r="2.95"/>
<circle cx="404.4" cy="118.5" r="2.95"/>
<circle cx="405.5" cy="118.5" r="2.95"/>
<circle cx="406.6" cy="118.5" r="2.95"/>
<circle cx="407.8" cy="118.5" r="2.95"/>
<circle cx="408.9" cy="118.5" r="2.95"/>
<circle cx="410.0" cy="118.5" r="2.95"/>
<circle cx="411.2" cy="118.5" r="2.95"/>
<circle cx="412.3" cy="118.5" r="2.95"/>
<circle cx="413.5" cy="118.5" r="2.95"/>
<circle cx="414.6" cy="118.5" r="2.95"/>
<circle cx="415.7" cy="118.5" r="2.95"/>
<circle cx="416.9" cy="118.5" r="2.95"/>
<circle cx="418.0" cy="118.5" r="2.95"/>
<circle cx="419.1" cy="118.5" r="2.95"/>
<circle cx="420.3" cy="118.5" r="2.95"/>
<circle cx="421.4" cy="118.5" r="2.95"/>
<circle cx="422.5" cy="118.5" r="2.95"/>
<circle cx="423.7" cy="118.5" r="2.95"/>
<circle cx="424.8" cy="118.5" r="2.95"/>
<circle cx="425.9" cy="118.5" r="2.95"/>
<circle cx="427.1" cy="118.5" r="2.95"/>
<circle cx="428.2" cy="118.5" r="2.95"/>
<circle cx="429.3" cy="118.5" r="2.95"/>
<circle cx="430.5" cy="118.5" r="2.95"/>
<circle cx="431.6" cy="118.5" r="2.95"/>
<circle cx="432.7" cy="118.5" r="2.95"/>
<circle cx="433.9" cy="118.5" r="2.95"/>
<circle cx="435.0" cy="118.5" r="2.95"/>
<circle cx="436.1" cy="118.5" r="2.95"/>
<circle cx="437.3" cy="118.5" r="2.95"/>
<circle cx="438.4" cy="118.5" r="2.95"/>
<circle cx="439.5" cy="118.5" r="2.95"/>
<circle cx="440.7" cy="118.5" r="2.95"/>
<circle cx="441.8" cy="118.5" r="2.95"/>
<circle cx="442.9" cy="118.5" r="2.95"/>
<circle cx="444.1" cy="118.5" r="2.95"/>
<circle cx="445.2" cy="118.5" r="2.95"/>
<circle cx="446.3" cy="118.5" r="2.95"/>
<circle cx="447.5" cy="118.5" r="2.95"/>
<circle cx="448.6" cy="118.5" r="2.95"/>
<circle cx="449.7" cy="118.5" r="2.95"/>
<circle cx="450.9" cy="118.5" r="2.95"/>
<circle cx="452.0" cy="118.5" r="2.95"/>
<circle cx="453.1" cy="118.5" r="2.95"/>
<circle cx="454.3" cy="118.5" r="2.95"/>
<circle cx="455.4" cy="118.5" r="2.95"/>
<circle cx="456.6" cy="118.5" r="2.95"/>
<circle cx="457.7" cy="118.5" r="2.95"/>
<circle cx="458.8" cy="118.5" r="2.95"/>
<circle cx="460.0" cy="118.5" r="2.95"/>
<circle cx="461.1" cy="118.5" r="2.95"/>
<circle cx="462.2" cy="118.5" r="2.95"/>
<circle cx="463.4" cy="118.5" r="2.95"/>
<circle cx="464.5" cy="118.5" r="2.95"/>
<circle cx="465.6" cy="118.5" r="2.95"/>
<circle cx="466.8" cy="118.5" r="2.95"/>
<circle cx="467.9" cy="118.5" r="2.95"/>
<circle cx="469.0" cy="118.5" r="2.95"/>
<circle cx="470.2" cy="118.5" r="2.95"/>
<circle cx="471.3" cy="118.5" r="2.95"/>
<circle cx="472.4" cy="118.5" r="2.95"/>
<circle cx="473.6" cy="118.5" r="2.95"/>
<circle cx="474.7" cy="118.5" r="2.95"/>
<circle cx="482.3" cy="118.5" r="2.95"/>
<circle cx="483.4" cy="118.5" r="2.95"/>
<circle cx="484.6" cy="118.5" r="2.95"/>
<circle cx="485.7" cy="118.5" r="2.95"/>
<circle cx="486.8" cy="118.5" r="2.95"/>
<circle cx="488.0" cy="118.5" r="2.95"/>
<circle cx="489.1" cy="118.5" r="2.95"/>
<circle cx="490.2" cy="118.5" r="2.95"/>
<circle cx="491.4" cy="118.5" r="2.95"/>
<circle cx="492.5" cy="118.5" r="2.95"/>
<circle cx="493.6" cy="118.5" r="2.95"/>
<circle cx="494.8" cy="118.5" r="2.95"/>
<circle cx="495.9" cy="118.5" r="2.95"/>
<circle cx="497.0" cy="118.5" r="2.95"/>
<circle cx="498.2" cy="118.5" r="2.95"/>
<circle cx="499.3" cy="118.5" r="2.95"/>
<circle cx="500.4" cy="118.5" r="2.95"/>
<circle cx="501.6" cy="118.5" r="2.95"/>
<circle cx="502.7" cy="118.5" r="2.95"/>
<circle cx="503.8" cy="118.5" r="2.95"/>
<circle cx="505.0" cy="118.5" r="2.95"/>
<circle cx="506.1" cy="118.5" r="2.95"/>
<circle cx="507.2" cy="118.5" r="2.95"/>
<circle cx="508.4" cy="118.5" r="2.95"/>
<circle cx="509.5" cy="118.5" r="2.95"/>
<circle cx="510.6" cy="118.5" r="2.95"/>
<circle cx="511.8" cy="118.5" r="2.95"/>
<circle cx="512.9" cy="118.5" r="2.95"/>
<circle cx="514.0" cy="118.5" r="2.95"/>
<circle cx="515.2" cy="118.5" r="2.95"/>
<circle cx="516.3" cy="118.5" r="2.95"/>
<circle cx="517.4" cy="118.5" r="2.95"/>
<circle cx="518.6" cy="118.5" r="2.95"/>
<circle cx="519.7" cy="118.5" r="2.95"/>
<circle cx="520.8" cy="118.5" r="2.95"/>
<circle cx="522.0" cy="118.5" r="2.95"/>
<circle cx="523.1" cy="118.5" r="2.95"/>
<circle cx="524.2" cy="118.5" r="2.95"/>
<circle cx="525.4" cy="118.5" r="2.95"/>
<circle cx="526.5" cy="118.5" r="2.95"/>
<circle cx="527.6" cy="118.5" r="2.95"/>
<circle cx="528.8" cy="118.5" r="2.95"/>
<circle cx="529.9" cy="118.5" r="2.95"/>
<circle cx="531.0" cy="118.5" r="2.95"/>
<circle cx="532.2" cy="118.5" r="2.95"/>
<circle cx="533.3" cy="118.5" r="2.95"/>
<circle cx="534.4" cy="118.5" r="2.95"/>
<circle cx="535.6" cy="118.5" r="2.95"/>
<circle cx="536.7" cy="118.5" r="2.95"/>
<circle cx="537.8" cy="118.5" r="2.95"/>
<circle cx="539.0" cy="118.5" r="2.95"/>
<circle cx="540.1" cy="118.5" r="2.95"/>
<circle cx="541.2" cy="118.5" r="2.95"/>
<circle cx="542.4" cy="118.5" r="2.95"/>
<circle cx="543.5" cy="118.5" r="2.95"/>
<circle cx="544.6" cy="118.5" r="2.95"/>
<circle cx="545.8" cy="118.5" r="2.95"/>
<circle cx="546.9" cy="118.5" r="2.95"/>
<circle cx="548.0" cy="118.5" r="2.95"/>
<circle cx="549.2" cy="118.5" r="2.95"/>
<circle cx="550.3" cy="118.5" r="2.95"/>
<circle cx="551.4" cy="118.5" r="2.95"/>
<circle cx="552.6" cy="118.5" r="2.95"/>
<circle cx="553.7" cy="118.5" r="2.95"/>
<circle cx="554.8" cy="118.5" r="2.95"/>
<circle cx="556.0" cy="118.5" r="2.95"/>
<circle cx="557.1" cy="118.5" r="2.95"/>
<circle cx="558.2" cy="118.5" r="2.95"/>
<circle cx="559.4" cy="118.5" r="2.95"/>
<circle cx="560.5" cy="118.5" r="2.95"/>
<circle cx="561.6" cy="118.5" r="2.95"/>
<circle cx="562.8" cy="118.5" r="2.95"/>
<circle cx="563.9" cy="118.5" r="2.95"/>
<circle cx="565.0" cy="118.5" r="2.95"/>
<circle cx="566.2" cy="118.5" r="2.95"/>
<circle cx="567.3" cy="118.5" r="2.95"/>
<circle cx="568.4" cy="118.5" r="2.95"/>
<circle cx="569.6" cy="118.5" r="2.95"/>
<circle cx="570.7" cy="118.5" r="2.95"/>
<circle cx="571.8" cy="118.5" r="2.95"/>
<circle cx="573.0" cy="118.5" r="2.95"/>
<circle cx="574.1" cy="118.5" r="2.95"/>
<circle cx="575.2" cy="118.5" r="2.95"/>
<circle cx="576.4" cy="118.5" r="2.95"/>
<circle cx="577.5" cy="118.5" r="2.95"/>
<circle cx="578.6" cy="118.5" r="2.95"/>
<circle cx="579.8" cy="118.5" r="2.95"/>
<circle cx="580.9" cy="118.5" r="2.95"/>
<circle cx="582.0" cy="118.5" r="2.95"/>
<circle cx="583.2" cy="118.5" r="2.95"/>
<circle cx="584.3" cy="118.5" r="2.95"/>
<circle cx="585.4" cy="118.5" r="2.95"/>
<circle cx="586.6" cy="118.5" r="2.95"/>
<circle cx="587.7" cy="118.5" r="2.95"/>
<circle cx="588.9" cy="118.5" r="2.95"/>
<circle cx="590.0" cy="118.5" r="2.95"/>
<circle cx="591.1" cy="118.5" r="2.95"/>
<circle cx="592.3" cy="118.5" r="2.95"/>
<circle cx="593.4" cy="118.5" r="2.95"/>
<circle cx="594.5" cy="118.5" r="2.95"/>
<circle cx="595.7" cy="118.5" r="2.95"/>
<circle cx="596.8" cy="118.5" r="2.95"/>
<circle cx="597.9" cy="118.5" r="2.95"/>
<circle cx="599.1" cy="118.5" r="2.95"/>
<circle cx="600.2" cy="118.5" r="2.95"/>
<circle cx="601.3" cy="118.5" r="2.95"/>
<circle cx="602.5" cy="118.5" r="2.95"/>
<circle cx="603.6" cy="118.5" r="2.95"/>
<circle cx="604.7" cy="118.5" r="2.95"/>
<circle cx="605.9" cy="118.5" r="2.95"/>
<circle cx="607.0" cy="118.5" r="2.95"/>
<circle cx="608.1" cy="118.5" r="2.95"/>
<circle cx="609.3" cy="118.5" r="2.95"/>
<circle cx="610.4" cy="118.5" r="2.95"/>
<circle cx="611.5" cy="118.5" r="2.95"/>
<circle cx="612.7" cy="118.5" r="2.95"/>
<circle cx="613.8" cy="118.5" r="2.95"/>
<circle cx="614.9" cy="118.5" r="2.95"/>
<circle cx="616.1" cy="118.5" r="2.95"/>
<circle cx="617.2" cy="118.5" r="2.95"/>
<circle cx="618.3" cy="118.5" r="2.95"/>
<circle cx="619.5" cy="118.5" r="2.95"/>
<circle cx="620.6" cy="118.5" r="2.95"/>
<circle cx="621.7" cy="118.5" r="2.95"/>
<circle cx="622.9" cy="118.5" r="2.95"/>
<circle cx="624.0" cy="118.5" r="2.95"/>
<circle cx="625.1" cy="118.5" r="2.95"/>
<circle cx="626.3" cy="118.5" r="2.95"/>
<circle cx="627.4" cy="118.5" r="2.95"/>
<circle cx="628.5" cy="118.5" r="2.95"/>
<circle cx="629.7" cy="118.5" r="2.95"/>
<circle cx="630.8" cy="118.5" r="2.95"/>
<circle cx="631.9" cy="118.5" r="2.95"/>
<circle cx="633.1" cy="118.5" r="2.95"/>
<circle cx="634.2" cy="118.5" r="2.95"/>
<circle cx="635.3" cy="118.5" r="2.95"/>
<circle cx="636.5" cy="118.5" r="2.95"/>
<circle cx="637.6" cy="118.5" r="2.95"/>
<circle cx="638.7" cy="118.5" r="2.95"/>
<circle cx="639.9" cy="118.5" r="2.95"/>
<circle cx="641.0" cy="118.5" r="2.95"/>
<circle cx="642.1" cy="118.5" r="2.95"/>
<circle cx="643.3" cy="118.5" r="2.95"/>
<circle cx="644.4" cy="118.5" r="2.95"/>
<circle cx="645.5" cy="118.5" r="2.95"/>
<circle cx="646.7" cy="118.5" r="2.95"/>
<circle cx="647.8" cy="118.5" r="2.95"/>
<circle cx="648.9" cy="118.5" r="2.95"/>
<circle cx="650.1" cy="118.5" r="2.95"/>
<circle cx="651.2" cy="118.5" r="2.95"/>
<circle cx="652.3" cy="118.5" r="2.95"/>
<circle cx="653.5" cy="118.5" r="2.95"/>
<circle cx="654.6" cy="118.5" r="2.95"/>
<circle cx="655.7" cy="118.5" r="2.95"/>
<circle cx="656.9" cy="118.5" r="2.95"/>
<circle cx="658.0" cy="118.5" r="2.95"/>
<circle cx="659.1" cy="118.5" r="2.95"/>
<circle cx="660.3" cy="118.5" r="2.95"/>
<circle cx="661.4" cy="118.5" r="2.95"/>
<circle cx="662.5" cy="118.5" r="2.95"/>
<circle cx="663.7" cy="118.5" r="2.95"/>
<circle cx="664.8" cy="118.5" r="2.95"/>
<circle cx="665.9" cy="118.5" r="2.95"/>
<circle cx="667.1" cy="118.5" r="2.95"/>
<circle cx="668.2" cy="118.5" r="2.95"/>
<circle cx="669.3" cy="118.5" r="2.95"/>
<circle cx="670.5" cy="118.5" r="2.95"/>
<circle cx="671.6" cy="118.5" r="2.95"/>
<circle cx="672.7" cy="118.5" r="2.95"/>
<circle cx="673.9" cy="118.5" r="2.95"/>
<circle cx="675.0" cy="118.5" r="2.95"/>
<circle cx="676.1" cy="118.5" r="2.95"/>
<circle cx="677.3" cy="118.5" r="2.95"/>
<circle cx="678.4" cy="118.5" r="2.95"/>
<circle cx="679.5" cy="118.5" r="2.95"/>
<circle cx="680.7" cy="118.5" r="2.95"/>
<circle cx="681.8" cy="118.5" r="2.95"/>
<circle cx="682.9" cy="118.5" r="2.95"/>
<circle cx="684.1" cy="118.5" r="2.95"/>
<circle cx="685.2" cy="118.5" r="2.95"/>
<circle cx="686.3" cy="118.5" r="2.95"/>
<circle cx="687.5" cy="118.5" r="2.95"/>
<circle cx="688.6" cy="118.5" r="2.95"/>
<circle cx="689.7" cy="118.5" r="2.95"/>
<circle cx="690.9" cy="118.5" r="2.95"/>
<circle cx="692.0" cy="118.5" r="2.95"/>
<circle cx="704.0" cy="118.5" r="2.95"/>
<circle cx="705.1" cy="118.5" r="2.95"/>
<circle cx="706.3" cy="118.5" r="2.95"/>
<circle cx="707.4" cy="118.5" r="2.95"/>
<circle cx="708.5" cy="118.5" r="2.95"/>
<circle cx="709.7" cy="118.5" r="2.95"/>
<circle cx="710.8" cy="118.5" r="2.95"/>
<circle cx="711.9" cy="118.5" r="2.95"/>
<circle cx="713.1" cy="118.5" r="2.95"/>
<circle cx="714.2" cy="118.5" r="2.95"/>
<circle cx="715.3" cy="118.5" r="2.95"/>
<circle cx="716.4" cy="118.5" r="2.95"/>
<circle cx="717.6" cy="118.5" r="2.95"/>
<circle cx="718.7" cy="118.5" r="2.95"/>
<circle cx="719.8" cy="118.5" r="2.95"/>
<circle cx="721.0" cy="118.5" r="2.95"/>
<circle cx="722.1" cy="118.5" r="2.95"/>
<circle cx="723.2" cy="118.5" r="2.95"/>
<circle cx="724.4" cy="118.5" r="2.95"/>
<circle cx="725.5" cy="118.5" r="2.95"/>
<circle cx="726.6" cy="118.5" r="2.95"/>
<circle cx="727.8" cy="118.5" r="2.95"/>
<circle cx="728.9" cy="118.5" r="2.95"/>
<circle cx="730.0" cy="118.5" r="2.95"/>
<circle cx="731.2" cy="118.5" r="2.95"/>
<circle cx="732.3" cy="118.5" r="2.95"/>
<circle cx="733.4" cy="118.5" r="2.95"/>
<circle cx="734.6" cy="118.5" r="2.95"/>
<circle cx="735.7" cy="118.5" r="2.95"/>
<circle cx="736.8" cy="118.5" r="2.95"/>
<circle cx="738.0" cy="118.5" r="2.95"/>
<circle cx="739.1" cy="118.5" r="2.95"/>
<circle cx="740.2" cy="118.5" r="2.95"/>
<circle cx="741.3" cy="118.5" r="2.95"/>
<circle cx="742.5" cy="118.5" r="2.95"/>
<circle cx="743.6" cy="118.5" r="2.95"/>
<circle cx="744.7" cy="118.5" r="2.95"/>
<circle cx="745.9" cy="118.5" r="2.95"/>
<circle cx="747.0" cy="118.5" r="2.95"/>
<circle cx="748.1" cy="118.5" r="2.95"/>
<circle cx="749.3" cy="118.5" r="2.95"/>
<circle cx="750.4" cy="118.5" r="2.95"/>
<circle cx="751.5" cy="118.5" r="2.95"/>
<circle cx="752.7" cy="118.5" r="2.95"/>
<circle cx="753.8" cy="118.5" r="2.95"/>
<circle cx="754.9" cy="118.5" r="2.95"/>
<circle cx="756.1" cy="118.5" r="2.95"/>
<circle cx="757.2" cy="118.5" r="2.95"/>
<circle cx="758.3" cy="118.5" r="2.95"/>
<circle cx="759.5" cy="118.5" r="2.95"/>
<circle cx="760.6" cy="118.5" r="2.95"/>
<circle cx="761.7" cy="118.5" r="2.95"/>
<circle cx="762.9" cy="118.5" r="2.95"/>
<circle cx="764.0" cy="118.5" r="2.95"/>
<circle cx="765.1" cy="118.5" r="2.95"/>
<circle cx="766.2" cy="118.5" r="2.95"/>
<circle cx="767.4" cy="118.5" r="2.95"/>
<circle cx="768.5" cy="118.5" r="2.95"/>
<circle cx="769.6" cy="118.5" r="2.95"/>
<circle cx="770.8" cy="118.5" r="2.95"/>
<circle cx="771.9" cy="118.5" r="2.95"/>
<circle cx="773.0" cy="118.5" r="2.95"/>
<circle cx="774.2" cy="118.5" r="2.95"/>
<circle cx="775.3" cy="118.5" r="2.95"/>
<circle cx="776.4" cy="118.5" r="2.95"/>
<circle cx="777.6" cy="118.5" r="2.95"/>
<circle cx="778.7" cy="118.5" r="2.95"/>
<circle cx="779.8" cy="118.5" r="2.95"/>
<circle cx="781.0" cy="118.5" r="2.95"/>
<circle cx="782.1" cy="118.5" r="2.95"/>
<circle cx="783.2" cy="118.5" r="2.95"/>
<circle cx="784.4" cy="118.5" r="2.95"/>
<circle cx="785.5" cy="118.5" r="2.95"/>
<circle cx="786.6" cy="118.5" r="2.95"/>
<circle cx="787.8" cy="118.5" r="2.95"/>
<circle cx="788.9" cy="118.5" r="2.95"/>
<circle cx="790.0" cy="118.5" r="2.95"/>
<circle cx="791.1" cy="118.5" r="2.95"/>
<circle cx="792.3" cy="118.5" r="2.95"/>
<circle cx="793.4" cy="118.5" r="2.95"/>
<circle cx="794.5" cy="118.5" r="2.95"/>
<circle cx="795.7" cy="118.5" r="2.95"/>
<circle cx="796.8" cy="118.5" r="2.95"/>
<circle cx="797.9" cy="118.5" r="2.95"/>
<circle cx="799.1" cy="118.5" r="2.95"/>
<circle cx="800.2" cy="118.5" r="2.95"/>
<circle cx="801.3" cy="118.5" r="2.95"/>
<circle cx="802.5" cy="118.5" r="2.95"/>
<circle cx="803.6" cy="118.5" r="2.95"/>
<circle cx="804.7" cy="118.5" r="2.95"/>
<circle cx="805.9" cy="118.5" r="2.95"/>
<circle cx="807.0" cy="118.5" r="2.95"/>
<circle cx="808.1" cy="118.5" r="2.95"/>
<circle cx="809.3" cy="118.5" r="2.95"/>
<circle cx="810.4" cy="118.5" r="2.95"/>
<circle cx="811.5" cy="118.5" r="2.95"/>
<circle cx="812.6" cy="118.5" r="2.95"/>
<circle cx="813.8" cy="118.5" r="2.95"/>
<circle cx="814.9" cy="118.5" r="2.95"/>
<circle cx="816.0" cy="118.5" r="2.95"/>
<circle cx="817.2" cy="118.5" r="2.95"/>
<circle cx="818.3" cy="118.5" r="2.95"/>
<circle cx="819.4" cy="118.5" r="2.95"/>
<circle cx="820.6" cy="118.5" r="2.95"/>
<circle cx="821.7" cy="118.5" r="2.95"/>
<circle cx="822.8" cy="118.5" r="2.95"/>
<circle cx="824.0" cy="118.5" r="2.95"/>
<circle cx="825.1" cy="118.5" r="2.95"/>
<circle cx="826.2" cy="118.5" r="2.95"/>
<circle cx="827.4" cy="118.5" r="2.95"/>
<circle cx="828.5" cy="118.5" r="2.95"/>
<circle cx="829.6" cy="118.5" r="2.95"/>
<circle cx="830.8" cy="118.5" r="2.95"/>
<circle cx="831.9" cy="118.5" r="2.95"/>
<circle cx="833.0" cy="118.5" r="2.95"/>
<circle cx="834.2" cy="118.5" r="2.95"/>
<circle cx="835.3" cy="118.5" r="2.95"/>
<circle cx="836.4" cy="118.5" r="2.95"/>
<circle cx="837.5" cy="118.5" r="2.95"/>
<circle cx="838.7" cy="118.5" r="2.95"/>
<circle cx="839.8" cy="118.5" r="2.95"/>
<circle cx="840.9" cy="118.5" r="2.95"/>
<circle cx="842.1" cy="118.5" r="2.95"/>
<circle cx="843.2" cy="118.5" r="2.95"/>
<circle cx="844.3" cy="118.5" r="2.95"/>
<circle cx="845.5" cy="118.5" r="2.95"/>
<circle cx="846.6" cy="118.5" r="2.95"/>
<circle cx="847.7" cy="118.5" r="2.95"/>
<circle cx="848.9" cy="118.5" r="2.95"/>
<circle cx="850.0" cy="118.5" r="2.95"/>
<circle cx="851.1" cy="118.5" r="2.95"/>
<circle cx="852.3" cy="118.5" r="2.95"/>
<circle cx="853.4" cy="118.5" r="2.95"/>
<circle cx="854.5" cy="118.5" r="2.95"/>
<circle cx="855.7" cy="118.5" r="2.95"/>
<circle cx="856.8" cy="118.5" r="2.95"/>
<circle cx="857.9" cy="118.5" r="2.95"/>
<circle cx="859.1" cy="118.5" r="2.95"/>
<circle cx="860.2" cy="118.5" r="2.95"/>
<circle cx="861.3" cy="118.5" r="2.95"/>
<circle cx="862.4" cy="118.5" r="2.95"/>
<circle cx="863.6" cy="118.5" r="2.95"/>
<circle cx="864.7" cy="118.5" r="2.95"/>
<circle cx="865.8" cy="118.5" r="2.95"/>
<circle cx="867.0" cy="118.5" r="2.95"/>
<circle cx="868.1" cy="118.5" r="2.95"/>
<circle cx="869.2" cy="118.5" r="2.95"/>
<circle cx="870.4" cy="118.5" r="2.95"/>
<circle cx="871.5" cy="118.5" r="2.95"/>
<circle cx="875.0" cy="118.5" r="2.95"/>
<circle cx="876.1" cy="118.5" r="2.95"/>
<circle cx="877.3" cy="118.5" r="2.95"/>
<circle cx="878.4" cy="118.5" r="2.95"/>
<circle cx="879.5" cy="118.5" r="2.95"/>
<circle cx="880.7" cy="118.5" r="2.95"/>
<circle cx="881.8" cy="118.5" r="2.95"/>
<circle cx="882.9" cy="118.5" r="2.95"/>
<circle cx="884.1" cy="118.5" r="2.95"/>
<circle cx="885.2" cy="118.5" r="2.95"/>
<circle cx="886.3" cy="118.5" r="2.95"/>
<circle cx="887.4" cy="118.5" r="2.95"/>
<circle cx="888.6" cy="118.5" r="2.95"/>
<circle cx="889.7" cy="118.5" r="2.95"/>
<circle cx="890.8" cy="118.5" r="2.95"/>
<circle cx="892.0" cy="118.5" r="2.95"/>
<circle cx="893.1" cy="118.5" r="2.95"/>
<circle cx="894.2" cy="118.5" r="2.95"/>
<circle cx="895.4" cy="118.5" r="2.95"/>
<circle cx="896.5" cy="118.5" r="2.95"/>
<circle cx="897.6" cy="118.5" r="2.95"/>
<circle cx="898.8" cy="118.5" r="2.95"/>
<circle cx="899.9" cy="118.5" r="2.95"/>
<circle cx="901.0" cy="118.5" r="2.95"/>
<circle cx="902.2" cy="118.5" r="2.95"/>
<circle cx="903.3" cy="118.5" r="2.95"/>
<circle cx="904.4" cy="118.5" r="2.95"/>
<circle cx="905.6" cy="118.5" r="2.95"/>
<circle cx="906.7" cy="118.5" r="2.95"/>
<circle cx="907.8" cy="118.5" r="2.95"/>
<circle cx="909.0" cy="118.5" r="2.95"/>
<circle cx="910.1" cy="118.5" r="2.95"/>
<circle cx="911.2" cy="118.5" r="2.95"/>
<circle cx="912.3" cy="118.5" r="2.95"/>
<circle cx="913.5" cy="118.5" r="2.95"/>
<circle cx="914.6" cy="118.5" r="2.95"/>
<circle cx="915.7" cy="118.5" r="2.95"/>
<circle cx="916.9" cy="118.5" r="2.95"/>
<circle cx="918.0" cy="118.5" r="2.95"/>
<circle cx="919.1" cy="118.5" r="2.95"/>
<circle cx="920.3" cy="118.5" r="2.95"/>
<circle cx="921.4" cy="118.5" r="2.95"/>
<circle cx="922.5" cy="118.5" r="2.95"/>
<circle cx="923.7" cy="118.5" r="2.95"/>
<circle cx="924.8" cy="118.5" r="2.95"/>
<circle cx="925.9" cy="118.5" r="2.95"/>
<circle cx="927.1" cy="118.5" r="2.95"/>
<circle cx="928.2" cy="118.5" r="2.95"/>
<circle cx="929.3" cy="118.5" r="2.95"/>
<circle cx="930.5" cy="118.5" r="2.95"/>
<circle cx="931.6" cy="118.5" r="2.95"/>
<circle cx="932.7" cy="118.5" r="2.95"/>
<circle cx="933.9" cy="118.5" r="2.95"/>
<circle cx="935.0" cy="118.5" r="2.95"/>
<circle cx="936.1" cy="118.5" r="2.95"/>
<circle cx="937.2" cy="118.5" r="2.95"/>
<circle cx="938.4" cy="118.5" r="2.95"/>
<circle cx="939.5" cy="118.5" r="2.95"/>
<circle cx="940.6" cy="118.5" r="2.95"/>
<circle cx="941.8" cy="118.5" r="2.95"/>
<circle cx="942.9" cy="118.5" r="2.95"/>
<circle cx="944.0" cy="118.5" r="2.95"/>
<circle cx="945.2" cy="118.5" r="2.95"/>
<circle cx="946.3" cy="118.5" r="2.95"/>
<circle cx="949.7" cy="118.5" r="2.95"/>
<circle cx="950.8" cy="118.5" r="2.95"/>
<circle cx="951.9" cy="118.5" r="2.95"/>
<circle cx="953.0" cy="118.5" r="2.95"/>
<circle cx="954.1" cy="118.5" r="2.95"/>
<circle cx="955.2" cy="118.5" r="2.95"/>
<circle cx="956.3" cy="118.5" r="2.95"/>
<circle cx="957.4" cy="118.5" r="2.95"/>
<circle cx="958.5" cy="118.5" r="2.95"/>
<circle cx="959.6" cy="118.5" r="2.95"/>
<circle cx="960.8" cy="118.5" r="2.95"/>
<circle cx="961.9" cy="118.5" r="2.95"/>
<circle cx="963.0" cy="118.5" r="2.95"/>
<circle cx="964.1" cy="118.5" r="2.95"/>
<circle cx="965.2" cy="118.5" r="2.95"/>
<circle cx="966.3" cy="118.5" r="2.95"/>
<circle cx="967.4" cy="118.5" r="2.95"/>
<circle cx="968.5" cy="118.5" r="2.95"/>
<circle cx="969.6" cy="118.5" r="2.95"/>
<circle cx="970.7" cy="118.5" r="2.95"/>
<circle cx="977.5" cy="118.5" r="2.95"/>
</g>
<line x1="987.5" x2="987.5" y1="503.6" y2="125.0" stroke="#000" stroke-width="2.78" stroke-dasharray="10.28 4.44"/>
<line x1="987.5" x2="987.5" y1="125.4" y2="112.0" stroke="#000" stroke-width="2.78" stroke-dasharray="10.28 4.44"/>
<g fill="none" stroke="#000" stroke-width="2" stroke-linecap="square">
<rect x="154.0" y="112.0" width="866.0" height="13.0"/>
<rect x="154.0" y="125.0" width="866.0" height="378.0"/>
</g>
<g stroke="#000" stroke-width="2">
<line x1="144.0" x2="153.00" y1="489.00" y2="489.00"/>
<line x1="144.0" x2="153.00" y1="434.00" y2="434.00"/>
<line x1="144.0" x2="153.00" y1="379.00" y2="379.00"/>
<line x1="144.0" x2="153.00" y1="324.00" y2="324.00"/>
<line x1="144.0" x2="153.00" y1="270.00" y2="270.00"/>
<line x1="144.0" x2="153.00" y1="215.00" y2="215.00"/>
<line x1="144.0" x2="153.00" y1="160.00" y2="160.00"/>
</g>
<g stroke="#000" stroke-width="2">
<line x1="238.00" x2="238.00" y1="504.00" y2="512.7"/>
<line x1="446.00" x2="446.00" y1="504.00" y2="512.7"/>
<line x1="651.00" x2="651.00" y1="504.00" y2="512.7"/>
<line x1="859.00" x2="859.00" y1="504.00" y2="512.7"/>
</g>
<g stroke="#000" stroke-width="2">
<line x1="169.00" x2="169.00" y1="504.00" y2="508.7"/>
<line x1="204.00" x2="204.00" y1="504.00" y2="508.7"/>
<line x1="273.00" x2="273.00" y1="504.00" y2="508.7"/>
<line x1="308.00" x2="308.00" y1="504.00" y2="508.7"/>
<line x1="342.00" x2="342.00" y1="504.00" y2="508.7"/>
<line x1="377.00" x2="377.00" y1="504.00" y2="508.7"/>
<line x1="411.00" x2="411.00" y1="504.00" y2="508.7"/>
<line x1="481.00" x2="481.00" y1="504.00" y2="508.7"/>
<line x1="513.00" x2="513.00" y1="504.00" y2="508.7"/>
<line x1="548.00" x2="548.00" y1="504.00" y2="508.7"/>
<line x1="582.00" x2="582.00" y1="504.00" y2="508.7"/>
<line x1="617.00" x2="617.00" y1="504.00" y2="508.7"/>
<line x1="686.00" x2="686.00" y1="504.00" y2="508.7"/>
<line x1="721.00" x2="721.00" y1="504.00" y2="508.7"/>
<line x1="755.00" x2="755.00" y1="504.00" y2="508.7"/>
<line x1="790.00" x2="790.00" y1="504.00" y2="508.7"/>
<line x1="824.00" x2="824.00" y1="504.00" y2="508.7"/>
<line x1="894.00" x2="894.00" y1="504.00" y2="508.7"/>
<line x1="925.00" x2="925.00" y1="504.00" y2="508.7"/>
<line x1="961.00" x2="961.00" y1="504.00" y2="508.7"/>
<line x1="994.00" x2="994.00" y1="504.00" y2="508.7"/>
</g>
<g font-size="25px" text-anchor="end">
<text x="134.6" y="498.40">0</text>
<text x="134.6" y="443.40">5000</text>
<text x="134.6" y="388.40">10000</text>
<text x="134.6" y="333.40">15000</text>
<text x="134.6" y="279.40">20000</text>
<text x="134.6" y="224.40">25000</text>
<text x="134.6" y="169.40">30000</text>
</g>
<g font-size="25px" text-anchor="middle">
<text x="237.30" y="541.9">07/2024</text>
<text x="445.30" y="541.9">01/2025</text>
<text x="650.30" y="541.9">07/2025</text>
<text x="858.30" y="541.9">01/2026</text>
</g>
<text x="587.4" y="42.8" font-size="30.56px" font-weight="bold" text-anchor="middle">Maximum Number of GPS Observations</text>
<text x="587" y="83.2" font-size="27.78px" text-anchor="middle">ANK200TUR - ROB-EUREF data node</text>
<text x="587.3" y="576.5" font-size="25px" text-anchor="middle">Month/Year</text>
<text transform="translate(37.7,314.5) rotate(-90)" font-size="25px" text-anchor="middle">Max. nr. of Obs.</text>
<text transform="translate(997,132.6) rotate(90) scale(0.79,1)" font-size="23.6px" text-anchor="start">Now</text>
<rect x="67.6" y="598.7" width="949.8" height="43.1" rx="5.5" ry="5.5" fill="#fff" stroke="#d6d6d6" stroke-width="2.78"/>
<circle cx="90.5" cy="618.4" r="4.4" fill="#000096"/>
<text x="104.3" y="626.0" font-size="25px">GPS</text>
<circle cx="332.5" cy="618.4" r="4.4" fill="#807dbb"/>
<text x="346.5" y="626.0" font-size="25px">RINEX2</text>
<circle cx="616.5" cy="618.4" r="4.4" fill="#660066"/>
<text x="630.2" y="626.0" font-size="25px">RINEX3</text>
<circle cx="900.5" cy="618.4" r="4.4" fill="#200020"/>
<text x="914.4" y="626.0" font-size="25px">RINEX4</text>
<text x="67.3" y="675.4" font-size="19.44px" font-style="italic">Sun Apr 19 12:05:07 2026</text>
<text x="1010.6" y="675.4" font-size="19.44px" font-style="italic" text-anchor="end">©GNSS@ROB</text>
</svg></body></html>
